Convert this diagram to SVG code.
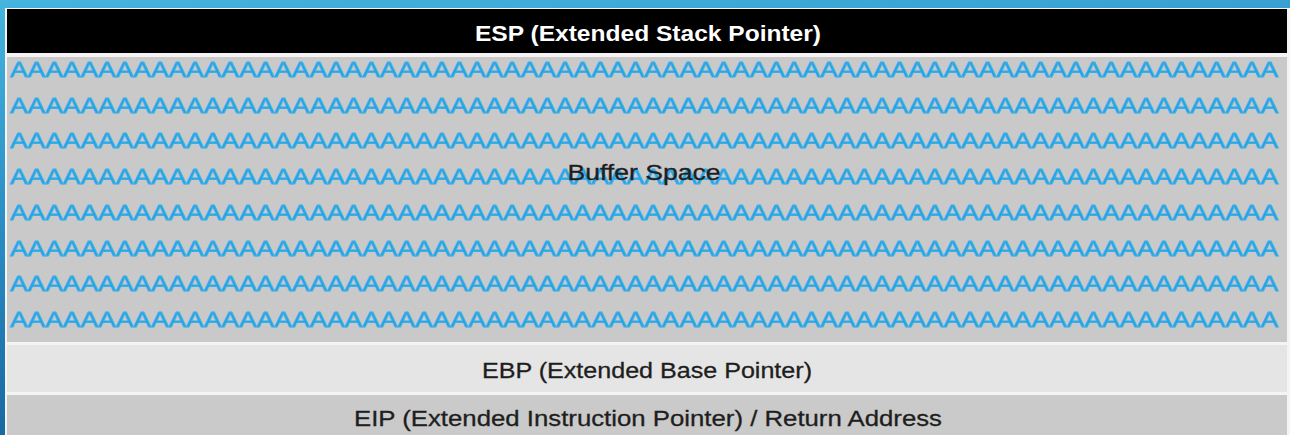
<svg xmlns="http://www.w3.org/2000/svg" width="1290" height="435" viewBox="0 0 1290 435">
  <defs>
    <linearGradient id="bg" x1="0" y1="0" x2="0.25" y2="1">
      <stop offset="0" stop-color="#45b4de"/>
      <stop offset="0.5" stop-color="#2a8cc4"/>
      <stop offset="1" stop-color="#17649c"/>
    </linearGradient>
    <style>
      .lbl { font-family: "Liberation Sans", Arial, sans-serif; font-size: 22px; text-anchor: middle; }
      .dark { fill: #1e1e1e; stroke: #1e1e1e; stroke-width: 0.3; }
      .fill { font-family: "Liberation Sans", Arial, sans-serif; font-size: 22px; fill: #1f9fe0; stroke: #3bb0ea; stroke-width: 0.8; }
    </style>
  </defs>

  <!-- backdrop and white frame -->
  <rect x="0" y="0" width="1290" height="435" fill="url(#bg)"/>
  <rect x="5" y="8" width="1285" height="427" fill="#f4f4f4"/>

  <!-- top of stack -->
  <g id="esp">
    <rect x="7" y="9" width="1280" height="44" fill="#000"/>
    <text class="lbl" x="648" y="41" fill="#fff" font-weight="bold" textLength="346" lengthAdjust="spacingAndGlyphs">ESP (Extended Stack Pointer)</text>
  </g>

  <!-- buffer filled with A's -->
  <g id="buffer">
    <rect x="7" y="57" width="1280" height="285" fill="#c9c9c9"/>
    <g>
      <text class="fill" x="10" y="77" textLength="1268" lengthAdjust="spacingAndGlyphs">AAAAAAAAAAAAAAAAAAAAAAAAAAAAAAAAAAAAAAAAAAAAAAAAAAAAAAAAAAAAAAAAAAAAAAAA</text>
      <text class="fill" x="10" y="112.7" textLength="1268" lengthAdjust="spacingAndGlyphs">AAAAAAAAAAAAAAAAAAAAAAAAAAAAAAAAAAAAAAAAAAAAAAAAAAAAAAAAAAAAAAAAAAAAAAAA</text>
      <text class="fill" x="10" y="148.4" textLength="1268" lengthAdjust="spacingAndGlyphs">AAAAAAAAAAAAAAAAAAAAAAAAAAAAAAAAAAAAAAAAAAAAAAAAAAAAAAAAAAAAAAAAAAAAAAAA</text>
      <text class="fill" x="10" y="184.1" textLength="1268" lengthAdjust="spacingAndGlyphs">AAAAAAAAAAAAAAAAAAAAAAAAAAAAAAAAAAAAAAAAAAAAAAAAAAAAAAAAAAAAAAAAAAAAAAAA</text>
      <text class="fill" x="10" y="219.8" textLength="1268" lengthAdjust="spacingAndGlyphs">AAAAAAAAAAAAAAAAAAAAAAAAAAAAAAAAAAAAAAAAAAAAAAAAAAAAAAAAAAAAAAAAAAAAAAAA</text>
      <text class="fill" x="10" y="255.5" textLength="1268" lengthAdjust="spacingAndGlyphs">AAAAAAAAAAAAAAAAAAAAAAAAAAAAAAAAAAAAAAAAAAAAAAAAAAAAAAAAAAAAAAAAAAAAAAAA</text>
      <text class="fill" x="10" y="291.2" textLength="1268" lengthAdjust="spacingAndGlyphs">AAAAAAAAAAAAAAAAAAAAAAAAAAAAAAAAAAAAAAAAAAAAAAAAAAAAAAAAAAAAAAAAAAAAAAAA</text>
      <text class="fill" x="10" y="326.9" textLength="1268" lengthAdjust="spacingAndGlyphs">AAAAAAAAAAAAAAAAAAAAAAAAAAAAAAAAAAAAAAAAAAAAAAAAAAAAAAAAAAAAAAAAAAAAAAAA</text>
    </g>
    <!-- label printed over the fill rows -->
    <text class="lbl dark" x="644" y="180" textLength="153" lengthAdjust="spacingAndGlyphs">Buffer Space</text>
  </g>

  <!-- saved base pointer -->
  <g id="ebp">
    <rect x="7" y="345" width="1280" height="47" fill="#e5e5e5"/>
    <text class="lbl dark" x="647" y="378" textLength="330" lengthAdjust="spacingAndGlyphs">EBP (Extended Base Pointer)</text>
  </g>

  <!-- return address -->
  <g id="eip">
    <rect x="7" y="395" width="1280" height="40" fill="#cacaca"/>
    <text class="lbl dark" x="648" y="426" textLength="588" lengthAdjust="spacingAndGlyphs">EIP (Extended Instruction Pointer) / Return Address</text>
  </g>

  <g id="connectors"/>
</svg>
